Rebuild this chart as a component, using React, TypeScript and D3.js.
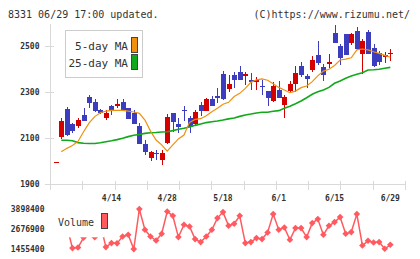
import React from 'react';
import * as d3 from 'd3';

const W = 420;
const H = 259;

// trading days shown on the chart
const dates = [
  '3/31', '4/1', '4/2', '4/3', '4/6', '4/7', '4/8', '4/9', '4/10', '4/13',
  '4/14', '4/15', '4/16', '4/17', '4/20', '4/21', '4/22', '4/23', '4/24', '4/27',
  '4/28', '4/30', '5/1', '5/7', '5/8', '5/11', '5/12', '5/13', '5/14', '5/15',
  '5/18', '5/19', '5/20', '5/21', '5/22', '5/25', '5/26', '5/27', '5/28', '5/29',
  '6/1', '6/2', '6/3', '6/4', '6/5', '6/8', '6/9', '6/10', '6/11', '6/12',
  '6/15', '6/16', '6/17', '6/18', '6/19', '6/22', '6/23', '6/24', '6/25', '6/26',
  '6/29',
];

const opens = [
  1996, 2104, 2226, 2161, 2152, 2200, 2280, 2258, 2221, 2188,
  2240, 2240, 2258, 2229, 2207, 2154, 2074, 2014, 2036, 2003,
  2077, 2208, 2162, 2222, 2186, 2161, 2243, 2216, 2270, 2284,
  2378, 2313, 2374, 2387, 2371, 2352, 2345, 2326, 2304, 2262,
  2309, 2243, 2304, 2336, 2413, 2371, 2396, 2461, 2407, 2423,
  2556, 2500, 2551, 2514, 2565, 2465, 2562, 2493, 2468, 2453,
  2465,
];
const closes = [
  1996, 2174, 2113, 2130, 2178, 2174, 2253, 2217, 2210, 2210,
  2217, 2250, 2223, 2184, 2161, 2074, 2040, 2039, 2029, 2035,
  2190, 2171, 2149, 2217, 2149, 2212, 2219, 2270, 2240, 2275,
  2270, 2335, 2352, 2352, 2380, 2342, 2352, 2320, 2275, 2326,
  2275, 2278, 2334, 2383, 2374, 2357, 2439, 2427, 2374, 2430,
  2514, 2449, 2459, 2551, 2487, 2523, 2465, 2415, 2432, 2461,
  2468,
];
const highs = [
  1996, 2186, 2236, 2166, 2187, 2230, 2287, 2270, 2226, 2222,
  2245, 2270, 2270, 2229, 2222, 2164, 2091, 2045, 2048, 2046,
  2203, 2208, 2186, 2239, 2197, 2223, 2255, 2275, 2283, 2316,
  2391, 2374, 2388, 2413, 2388, 2381, 2366, 2352, 2304, 2342,
  2348, 2287, 2348, 2413, 2432, 2378, 2457, 2520, 2422, 2464,
  2591, 2507, 2551, 2555, 2584, 2529, 2570, 2509, 2477, 2472,
  2487,
];
const lows = [
  1996, 2094, 2110, 2120, 2142, 2174, 2229, 2213, 2206, 2178,
  2199, 2230, 2223, 2184, 2161, 2074, 2026, 2001, 2004, 1984,
  2074, 2127, 2120, 2174, 2120, 2157, 2197, 2216, 2240, 2251,
  2265, 2301, 2316, 2352, 2330, 2309, 2309, 2287, 2240, 2258,
  2275, 2188, 2294, 2301, 2366, 2319, 2386, 2417, 2347, 2403,
  2514, 2417, 2459, 2504, 2483, 2377, 2465, 2407, 2419, 2425,
  2435,
];

// moving averages (first day has none)
const ma5 = [
  null, 2040, 2055, 2067, 2085, 2127, 2166, 2193, 2210, 2217,
  2220, 2220, 2220, 2217, 2213, 2207, 2178, 2130, 2091, 2070,
  2043, 2070, 2096, 2113, 2168, 2181, 2184, 2197, 2214, 2229,
  2247, 2255, 2280, 2294, 2316, 2342, 2353, 2357, 2351, 2336,
  2320, 2309, 2297, 2304, 2319, 2326, 2345, 2370, 2391, 2399,
  2415, 2439, 2443, 2449, 2483, 2487, 2483, 2475, 2468, 2459,
  2451,
];
const ma25 = [
  null, 2090, 2090, 2088, 2080, 2077, 2076, 2076, 2079, 2084,
  2088, 2093, 2099, 2106, 2112, 2115, 2120, 2123, 2124, 2126,
  2127, 2132, 2138, 2142, 2148, 2155, 2161, 2167, 2171, 2174,
  2178, 2183, 2187, 2194, 2200, 2204, 2209, 2212, 2212, 2216,
  2219, 2229, 2238, 2249, 2261, 2275, 2290, 2301, 2309, 2320,
  2338, 2348, 2360, 2370, 2377, 2384, 2396, 2397, 2399, 2403,
  2407,
];

const volumes = [
  2900000, 3100000, 2872000, 1510000, 1547000, 2152000, 2445000, 2170000, 2995000, 1571000,
  1816000, 1800000, 2219000, 2323000, 1450000, 3892000, 2628000, 2219000, 1975000, 2384000,
  3746000, 3483000, 2182000, 2933000, 2830000, 2060000, 1877000, 2219000, 2628000, 3343000,
  3709000, 2872000, 2995000, 3483000, 1816000, 1877000, 2121000, 2060000, 2463000, 3587000,
  2628000, 2769000, 2017000, 2732000, 2732000, 2182000, 3037000, 3282000, 2323000, 2872000,
  3098000, 3404000, 2384000, 2488000, 3587000, 1669000, 1956000, 1852000, 1877000, 1468000,
  1712000,
];

const priceTicks = [1900, 2100, 2300, 2500];
const volumeTicks = [1455400, 2676900, 3898400];
const dateLabels = ['4/14', '4/28', '5/18', '6/1', '6/15', '6/29'];

const UP = '#d40000';
const DOWN = '#3c3cbe';
const MA5_COLOR = '#f0900f';
const MA25_COLOR = '#12a81c';
const VOL_COLOR = '#ff5a60';
const AXIS = '#d9d9d9';
const FONT = '"DejaVu Sans Mono", monospace';

export default function App() {
  const x = d3.scalePoint<string>().domain(dates).range([55.7, 390.3]);
  const y = d3.scaleLinear().domain([1900, 2500]).range([184, 46]);
  const yv = d3.scaleLinear().domain([volumeTicks[0], volumeTicks[2]]).range([249, 209]);
  const grid = d3.scaleLinear().domain([0, 11]).range([50, 405]);

  const xi = (i: number) => x(dates[i]) as number;

  const maLine = d3
    .line<number | null>()
    .defined((d) => d != null)
    .x((_, i) => xi(i))
    .y((d) => y(d as number));

  const volLine = d3
    .line<number>()
    .x((_, i) => xi(i))
    .y((d) => yv(d));

  const diamond = d3.symbol().type(d3.symbolSquare).size(22)() as string;

  return (
    <svg
      width={W}
      height={H}
      style={{ position: 'absolute', left: 0, top: 0, background: '#fff' }}
      fontFamily={FONT}
    >
      <text x={8} y={17.5} fontSize={10} fill="#333">
        8331 06/29 17:00 updated.
      </text>
      <text x={410} y={17.5} fontSize={10} fill="#333" textAnchor="end">
        (C)https://www.rizumu.net/
      </text>

      {/* axes */}
      <g stroke={AXIS} strokeWidth={1} shapeRendering="crispEdges">
        <line x1={50.5} x2={50.5} y1={24} y2={190} />
        <line x1={50} x2={405} y1={184.5} y2={184.5} />
        {d3.range(1, 12).map((k) => (
          <line key={k} x1={Math.round(grid(k)) + 0.5} x2={Math.round(grid(k)) + 0.5} y1={181} y2={190} />
        ))}
        {priceTicks.map((t) => (
          <line key={t} x1={45} x2={54} y1={Math.round(y(t)) + 0.5} y2={Math.round(y(t)) + 0.5} />
        ))}
      </g>
      {priceTicks.map((t) => (
        <text key={t} x={39.5} y={y(t)} dy="0.35em" fontSize={8} fontWeight="bold" fill="#333" textAnchor="end">
          {t}
        </text>
      ))}
      {dateLabels.map((d) => (
        <text key={d} x={x(d)} y={201} fontSize={8} fontWeight="bold" fill="#333" textAnchor="middle">
          {d}
        </text>
      ))}

      {/* candles */}
      <g shapeRendering="crispEdges">
        {dates.map((d, i) => {
          const c = Math.round(xi(i));
          const color = closes[i] >= opens[i] ? UP : DOWN;
          const top = Math.round(y(Math.max(opens[i], closes[i])));
          const bot = Math.round(y(Math.min(opens[i], closes[i])));
          return (
            <g key={d}>
              <line x1={c + 0.5} x2={c + 0.5} y1={y(highs[i])} y2={y(lows[i])} stroke={color} />
              <rect x={c - 2} y={top} width={5} height={Math.max(1, bot - top)} fill={color} />
            </g>
          );
        })}
      </g>

      <path d={maLine(ma25) as string} fill="none" stroke={MA25_COLOR} strokeWidth={1.6} />
      <path d={maLine(ma5) as string} fill="none" stroke={MA5_COLOR} strokeWidth={1.2} />

      {/* price legend */}
      <rect x={65.5} y={30.5} width={77} height={47} fill="#fff" stroke="#ccc" />
      <text x={128} y={50} fontSize={11} fill="#333" textAnchor="end">5-day MA</text>
      <text x={128} y={66.5} fontSize={11} fill="#333" textAnchor="end">25-day MA</text>
      <rect x={131.5} y={37.5} width={6} height={15} fill={MA5_COLOR} stroke="#444" />
      <rect x={131.5} y={54.5} width={6} height={15} fill={MA25_COLOR} stroke="#444" />

      {/* volume */}
      <path d={volLine(volumes) as string} fill="none" stroke={VOL_COLOR} strokeWidth={1.5} />
      {volumes.map((v, i) => (
        <path key={i} d={diamond} transform={`translate(${xi(i)},${yv(v)}) rotate(45)`} fill={VOL_COLOR} />
      ))}
      {volumeTicks.map((t) => (
        <text key={t} x={44.5} y={yv(t)} dy="0.35em" fontSize={8} fontWeight="bold" fill="#333" textAnchor="end">
          {t}
        </text>
      ))}
      <rect x={52} y={204} width={52} height={33.3} fill="#fff" />
      <text x={58} y={225.7} fontSize={10} fill="#333">Volume</text>
      <rect x={101.5} y={213.5} width={6} height={15} fill={VOL_COLOR} stroke="#444" />
    </svg>
  );
}
